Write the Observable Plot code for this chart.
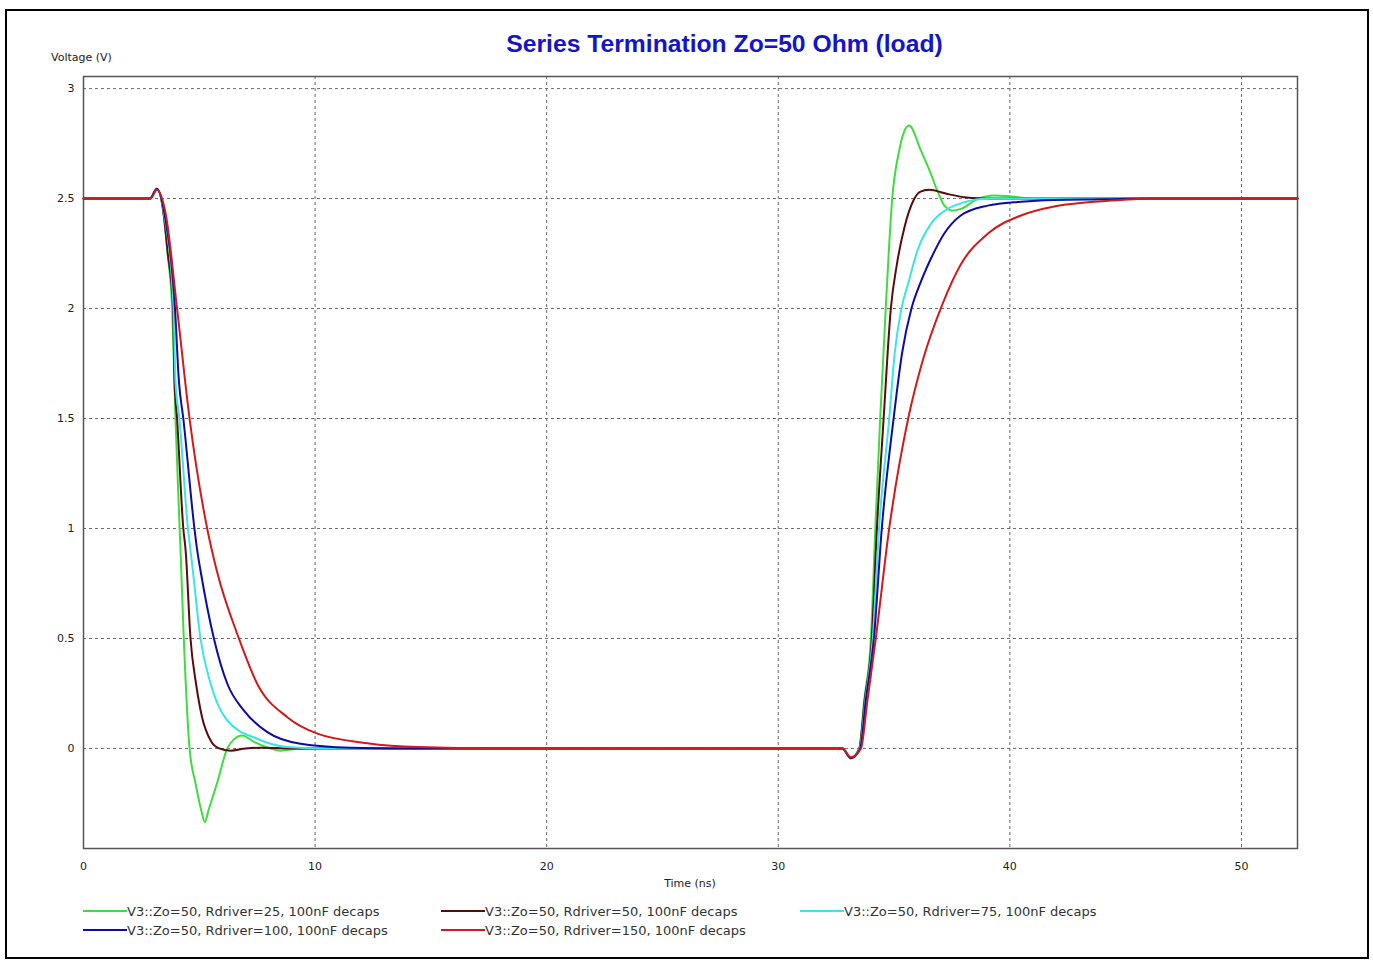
<!DOCTYPE html>
<html><head><meta charset="utf-8">
<script src="https://cdn.jsdelivr.net/npm/d3@7"></script>
<script src="https://cdn.jsdelivr.net/npm/@observablehq/plot@0.6"></script>
<style>
body{margin:0;background:#fff;}
#wrap{position:relative;width:1373px;height:960px;overflow:hidden;background:#fff;font-family:"DejaVu Sans",sans-serif;}
#border{position:absolute;left:5px;top:9px;width:1360px;height:946px;border:2px solid #000;}
#title{position:absolute;left:424px;width:601px;top:30px;text-align:center;font-family:"Liberation Sans",Arial,sans-serif;font-weight:bold;font-size:24.7px;line-height:28px;color:#1414c8;}
#ylab{position:absolute;left:51px;top:51px;font-size:11px;line-height:14px;color:#222;}
#xlab{position:absolute;left:640px;width:100px;text-align:center;top:877px;font-size:11px;line-height:14px;color:#222;}
#chart{position:absolute;left:0;top:0;}
.leg{position:absolute;height:16px;display:flex;align-items:center;font-size:13px;color:#333;white-space:nowrap;}
.sw{display:inline-block;width:44px;height:2px;margin-right:0px;}
</style></head>
<body><div id="wrap">
<div id="border"></div>
<div id="title">Series Termination Zo=50 Ohm (load)</div>
<div id="ylab">Voltage (V)</div>
<div id="chart"></div>
<div id="xlab">Time (ns)</div>
<div id="legend"></div>
</div>
<script>
// Series: [time (ns), voltage (V)]
const seriesNames = [
  "V3::Zo=50, Rdriver=25, 100nF decaps",
  "V3::Zo=50, Rdriver=50, 100nF decaps",
  "V3::Zo=50, Rdriver=75, 100nF decaps",
  "V3::Zo=50, Rdriver=100, 100nF decaps",
  "V3::Zo=50, Rdriver=150, 100nF decaps"
];
const seriesColors = ["#3fdc3f", "#5a0c0c", "#3ce4e4", "#0c0ca4", "#d21a1a"];

const rdriver25 = [[0,2.5],[2.87,2.5],[3.17,2.545],[3.46,2.43],[3.63,2.25],[3.83,2.0],[3.97,1.5],[4.15,1.0],[4.19,0.9],[4.33,0.5],[4.58,0.0],[4.84,-0.16],[5.08,-0.28],[5.24,-0.335],[5.40,-0.28],[5.76,-0.16],[6.21,0.0],[6.48,0.04],[6.86,0.059],[7.36,0.03],[8.08,0.0],[8.51,-0.01],[9.16,-0.003],[10.24,0],[32.77,0],[33.13,-0.045],[33.50,0],[33.71,0.218],[34.00,0.5],[34.19,1.0],[34.40,1.5],[34.64,2.0],[34.92,2.5],[35.22,2.718],[35.42,2.8],[35.65,2.832],[36.16,2.718],[36.59,2.612],[36.85,2.54],[37.16,2.47],[37.52,2.445],[37.88,2.453],[38.60,2.498],[39.32,2.514],[39.83,2.512],[40.48,2.504],[41.34,2.5],[52.42,2.5]];
const rdriver50 = [[0,2.5],[2.87,2.5],[3.17,2.545],[3.46,2.43],[3.63,2.26],[3.87,2.0],[3.93,1.67],[4.04,1.5],[4.31,1.0],[4.41,0.9],[4.62,0.5],[4.86,0.294],[5.12,0.142],[5.49,0.036],[5.85,0.0],[6.35,-0.01],[7.0,0.0],[7.65,0.003],[9.0,0],[32.77,0],[33.13,-0.045],[33.50,0],[33.73,0.218],[34.04,0.5],[34.26,1.0],[34.55,1.5],[34.86,2.0],[35.12,2.2],[35.45,2.37],[35.83,2.49],[36.12,2.53],[36.51,2.54],[37.31,2.521],[38.03,2.506],[38.75,2.501],[39.61,2.5],[52.42,2.5]];
const rdriver75 = [[0,2.5],[2.87,2.5],[3.17,2.545],[3.48,2.43],[3.89,2.0],[3.97,1.67],[4.14,1.5],[4.51,1.0],[4.62,0.9],[4.72,0.81],[5.05,0.5],[5.49,0.294],[6.21,0.127],[7.50,0.044],[8.80,0.006],[10.24,0],[32.77,0],[33.13,-0.045],[33.52,0],[33.76,0.218],[34.08,0.5],[34.35,1.0],[34.79,1.5],[35.03,1.8],[35.32,2.0],[35.65,2.13],[36.01,2.264],[36.59,2.385],[37.31,2.453],[38.03,2.483],[39.04,2.5],[52.42,2.5]];
const rdriver100 = [[0,2.5],[2.87,2.5],[3.17,2.545],[3.50,2.43],[3.95,2.0],[4.12,1.67],[4.31,1.5],[4.79,1.0],[4.91,0.9],[5.05,0.81],[5.63,0.5],[6.21,0.294],[6.92,0.173],[7.94,0.074],[9.37,0.021],[11.53,0.003],[13.7,0],[32.77,0],[33.13,-0.045],[33.54,0],[33.78,0.218],[34.13,0.5],[34.47,1.0],[34.98,1.5],[35.35,1.8],[35.75,2.0],[36.15,2.12],[36.65,2.24],[37.16,2.34],[37.88,2.423],[39.04,2.468],[40.48,2.486],[41.91,2.494],[44.06,2.497],[46.09,2.5],[52.42,2.5]];
const rdriver150 = [[0,2.5],[2.89,2.5],[3.17,2.54],[3.55,2.43],[4.04,2.0],[4.58,1.5],[5.34,1.0],[5.75,0.81],[6.71,0.5],[7.50,0.294],[8.80,0.142],[10.10,0.067],[12.25,0.024],[14.42,0.006],[17.8,0],[32.77,0],[33.13,-0.04],[33.57,0],[33.85,0.218],[34.21,0.5],[34.79,1.0],[35.61,1.5],[36.2,1.75],[37.09,2.02],[37.88,2.2],[39.04,2.34],[40.48,2.423],[41.91,2.464],[43.36,2.483],[44.79,2.494],[46.23,2.5],[52.42,2.5]];

const seriesData = [rdriver25, rdriver50, rdriver75, rdriver100, rdriver150];
const xTicks = [0, 10, 20, 30, 40, 50];
const yTicks = [0, 0.5, 1, 1.5, 2, 2.5, 3];

const grid = {stroke: "#6a6a6a", strokeOpacity: 1, strokeDasharray: "3,3", strokeWidth: 1};

const chart = Plot.plot({
  width: 1373, height: 886,
  marginTop: 76, marginLeft: 83, marginRight: 76, marginBottom: 38,
  style: {fontFamily: "DejaVu Sans, sans-serif", fontSize: "11px", color: "#222", background: "transparent"},
  x: {domain: [0, 52.42]},
  y: {domain: [-0.455, 3.055]},
  marks: [
    Plot.gridX(xTicks.filter(d => d > 0), grid),
    Plot.gridY(yTicks, grid),
    Plot.axisX(xTicks, {tickSize: 0, tickPadding: 14, label: null, tickFormat: d => String(d)}),
    Plot.axisY(yTicks, {tickSize: 0, tickPadding: 9, label: null, tickFormat: d => String(d)}),
    Plot.frame({stroke: "#555", strokeWidth: 1.5}),
    ...seriesData.map((s, i) => Plot.line(s, {x: d => d[0], y: d => d[1], stroke: seriesColors[i], strokeWidth: 2, curve: "monotone-x"}))
  ]
});
document.getElementById("chart").appendChild(chart);

// legend
const legPos = [[83, 903], [441, 903], [800, 903], [83, 922], [441, 922]];
const leg = document.getElementById("legend");
seriesNames.forEach((n, i) => {
  const d = document.createElement("div");
  d.className = "leg";
  d.style.left = legPos[i][0] + "px";
  d.style.top = legPos[i][1] + "px";
  d.innerHTML = `<span class="sw" style="background:${seriesColors[i]}"></span><span>${n}</span>`;
  leg.appendChild(d);
});
</script>
</body></html>
